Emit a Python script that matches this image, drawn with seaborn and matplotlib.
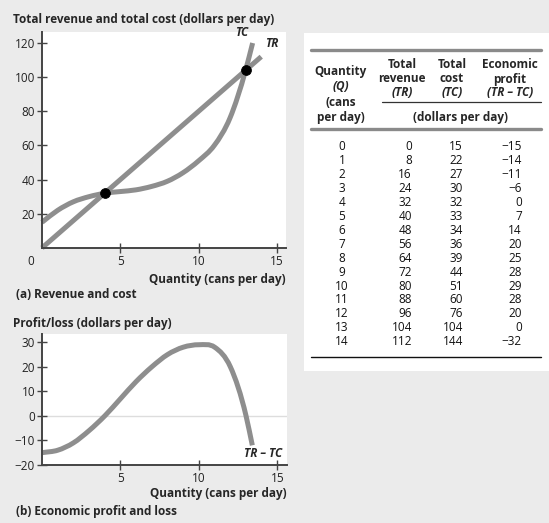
import matplotlib
matplotlib.use("Agg")
import matplotlib.pyplot as plt
from matplotlib.path import Path
from matplotlib.patches import PathPatch
import seaborn as sns
import pandas as pd
import numpy as np

# table data (cans per day, dollars per day)
quantity = [0, 1, 2, 3, 4, 5, 6, 7, 8, 9, 10, 11, 12, 13, 14]
total_revenue = [0, 8, 16, 24, 32, 40, 48, 56, 64, 72, 80, 88, 96, 104, 112]
total_cost = [15, 22, 27, 30, 32, 33, 34, 36, 39, 44, 51, 60, 76, 104, 144]
profit = [-15, -14, -11, -6, 0, 7, 14, 20, 25, 28, 29, 28, 20, 0, -32]

# where the drawn curves stop
tc_end = (13.45, 120)
profit_end = (13.4, -12)
# break-even points
break_even_q = [4, 13]
break_even_v = [32, 104]

sns.set_theme(style="ticks")
plt.rcParams["font.family"] = ["Open Sans", "DejaVu Sans"]
plt.rcParams["axes.unicode_minus"] = True

bg = "#ebebeb"
curve = "#8e8e8e"
spine = "#444444"
fs = 8.5

fig = plt.figure(figsize=(5.49, 5.23), dpi=100)
fig.patch.set_facecolor(bg)


def stijl(ax):
    ax.set_facecolor("white")
    for s in ["top", "right"]:
        ax.spines[s].set_visible(False)
    for s in ["left", "bottom"]:
        ax.spines[s].set_color(spine)
        ax.spines[s].set_linewidth(1.4)
    ax.tick_params(direction="inout", length=7, width=1, color=spine,
                   labelsize=fs, labelcolor="#222222", pad=1.5)
    ax.set_xlabel("")
    ax.set_ylabel("")


def gladde_lijn(ax, line):
    """vervangt de seaborn lijn door een vloeiende bezier door dezelfde punten"""
    x, y = line.get_xdata().astype(float), line.get_ydata().astype(float)
    m = np.gradient(y, x)
    verts = [(x[0], y[0])]
    codes = [Path.MOVETO]
    for i in range(len(x) - 1):
        h = x[i + 1] - x[i]
        verts += [(x[i] + h / 3, y[i] + m[i] * h / 3),
                  (x[i + 1] - h / 3, y[i + 1] - m[i + 1] * h / 3),
                  (x[i + 1], y[i + 1])]
        codes += [Path.CURVE4] * 3
    ax.add_patch(PathPatch(Path(verts, codes), fill=False, edgecolor=line.get_color(),
                           lw=line.get_linewidth(), capstyle="butt", clip_on=False,
                           zorder=line.get_zorder()))
    line.remove()


# ---------- (a) revenue and cost ----------
ax1 = fig.add_axes([0.0765, 0.526, 0.445, 0.413])
tc_q = quantity[:14] + [tc_end[0]]
tc_v = total_cost[:14] + [tc_end[1]]
sns.lineplot(x=quantity, y=total_revenue, ax=ax1, color=curve, lw=3.6,
             solid_capstyle="butt", clip_on=False)
sns.lineplot(x=tc_q, y=tc_v, ax=ax1, color=curve, lw=3.6, clip_on=False)
gladde_lijn(ax1, ax1.lines[-1])
sns.scatterplot(x=break_even_q, y=break_even_v, ax=ax1, color="black", s=50,
                zorder=5, edgecolor="black", clip_on=False)
ax1.set_xlim(0, 15.6)
ax1.set_ylim(0, 126.5)
ax1.set_xticks([5, 10, 15])
ax1.set_yticks([20, 40, 60, 80, 100, 120])
stijl(ax1)
ax1.annotate("0", xy=(0, 0), xytext=(-11, -7), textcoords="offset pixels",
             ha="center", va="top", fontsize=fs, color="#222222")
ax1.text(12.75, 126, "TC", fontsize=fs, fontweight="bold", fontstyle="italic",
         ha="center", va="center", clip_on=False)
ax1.text(14.65, 120, "TR", fontsize=fs, fontweight="bold", fontstyle="italic",
         ha="center", va="center", clip_on=False)

fig.text(13 / 549, 1 - 19 / 523, "Total revenue and total cost (dollars per day)",
         fontsize=fs, fontweight="bold", va="center")
fig.text(286 / 549, 1 - 279 / 523, "Quantity (cans per day)",
         fontsize=fs, fontweight="bold", va="center", ha="right")
fig.text(16 / 549, 1 - 295 / 523, "(a) Revenue and cost",
         fontsize=fs, fontweight="bold", va="center")

# ---------- (b) economic profit and loss ----------
ax2 = fig.add_axes([0.0765, 0.111, 0.446, 0.2505])
pr_q = quantity[:14] + [profit_end[0]]
pr_v = profit[:14] + [profit_end[1]]
ax2.axhline(0, color="#dddddd", lw=1, zorder=0)
sns.lineplot(x=pr_q, y=pr_v, ax=ax2, color=curve, lw=3.6, clip_on=False)
gladde_lijn(ax2, ax2.lines[-1])
ax2.set_xlim(0, 15.6)
ax2.set_ylim(-20, 33.4)
ax2.set_xticks([5, 10, 15])
ax2.set_yticks([-20, -10, 0, 10, 20, 30])
stijl(ax2)
ax2.text(15.3, -15.5, "TR – TC", fontsize=fs, fontweight="bold",
         fontstyle="italic", ha="right", va="center")

fig.text(13 / 549, 1 - 323 / 523, "Profit/loss (dollars per day)",
         fontsize=fs, fontweight="bold", va="center")
fig.text(287 / 549, 1 - 494 / 523, "Quantity (cans per day)",
         fontsize=fs, fontweight="bold", va="center", ha="right")
fig.text(16 / 549, 1 - 511 / 523, "(b) Economic profit and loss",
         fontsize=fs, fontweight="bold", va="center")

# ---------- table ----------
ax3 = fig.add_axes([304 / 549, 1 - 371 / 523, 245 / 549, (371 - 33) / 523])
ax3.set_facecolor("white")
ax3.set_xlim(304, 549)
ax3.set_ylim(371, 33)
ax3.set_xticks([])
ax3.set_yticks([])
for s in ax3.spines.values():
    s.set_visible(False)

ax3.plot([311, 541], [50, 50], color="#8a8a8a", lw=2.4)
ax3.plot([382, 541], [102, 102], color="#333333", lw=0.9)
ax3.plot([311, 541], [129, 129], color="#8a8a8a", lw=2.4)
ax3.plot([311, 541], [357, 357], color="#111111", lw=1.0)

hdr = dict(fontsize=fs, fontweight="bold", ha="center", va="center")
for txt, y in [("Quantity", 72), ("(Q)", 87), ("(cans", 102), ("per day)", 117)]:
    ax3.text(341, y, txt, fontstyle="italic" if txt == "(Q)" else "normal", **hdr)
kol_x = [402, 452, 510]
kop = [("Total", "revenue", "(TR)"), ("Total", "cost", "(TC)"),
       ("Economic", "profit", "(TR – TC)")]
for x, (r1, r2, r3) in zip(kol_x, kop):
    ax3.text(x, 64, r1, **hdr)
    ax3.text(x, 79, r2, **hdr)
    ax3.text(x, 93, r3, fontstyle="italic", **hdr)
ax3.text(461, 117, "(dollars per day)", **hdr)

rij = dict(fontsize=fs, va="center", color="#111111")
for i, q in enumerate(quantity):
    y = 147 + i * 13.9
    ax3.text(342, y, str(q), ha="center", **rij)
    ax3.text(412, y, str(total_revenue[i]), ha="right", **rij)
    ax3.text(463, y, str(total_cost[i]), ha="right", **rij)
    ax3.text(522, y, str(profit[i]).replace("-", "−"), ha="right", **rij)

fig.savefig("out.png", dpi=100, facecolor=bg)
